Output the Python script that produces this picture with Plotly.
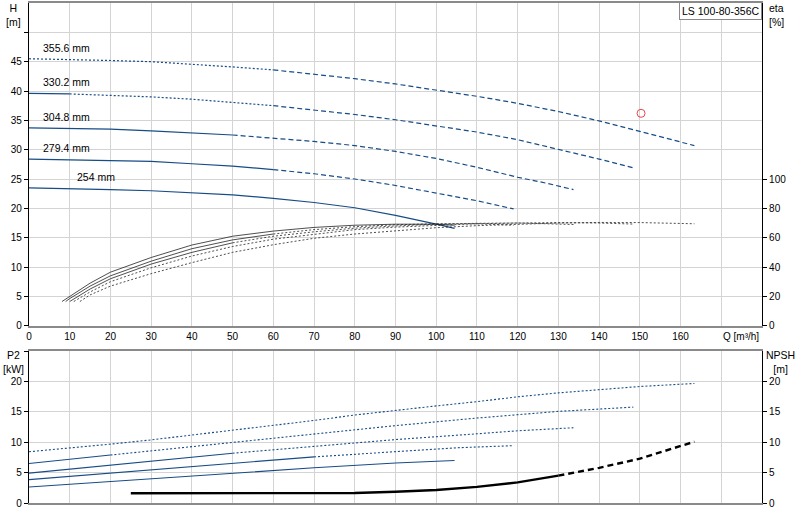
import plotly.graph_objects as go

# impeller diameters (mm)
diameters = ["355.6", "330.2", "304.8", "279.4", "254"]

# Q-H curves, one per impeller
q_h_356 = [0, 10, 20, 30, 40, 50, 60, 70, 80, 90, 100, 110, 120, 130, 140, 150, 163.4]
h_356 = [45.5, 45.4, 45.2, 45.0, 44.6, 44.1, 43.6, 42.9, 42.1, 41.2, 40.2, 39.1, 37.9, 36.5, 34.9, 33.1, 30.7]
q_h_330 = [0, 10, 20, 30, 40, 50, 60, 70, 80, 90, 100, 110, 120, 130, 140, 148.4]
h_330 = [39.6, 39.5, 39.3, 39.0, 38.6, 38.1, 37.5, 36.8, 36.0, 35.1, 34.1, 33.0, 31.7, 30.1, 28.4, 26.9]
q_h_305 = [0, 10, 20, 30, 40, 50, 60, 70, 80, 90, 100, 110, 120, 127, 133.7]
h_305 = [33.7, 33.6, 33.5, 33.2, 32.9, 32.5, 32.0, 31.4, 30.7, 29.7, 28.5, 27.0, 25.3, 24.3, 23.2]
q_h_279 = [0, 10, 20, 30, 40, 50, 60, 70, 80, 90, 100, 110, 119]
h_279 = [28.4, 28.3, 28.2, 28.0, 27.6, 27.2, 26.6, 25.9, 25.0, 23.9, 22.6, 21.3, 19.9]
q_h_254 = [0, 10, 20, 30, 40, 50, 60, 70, 80, 90, 100, 104.5]
h_254 = [23.5, 23.4, 23.2, 23.0, 22.7, 22.3, 21.7, 21.0, 20.1, 18.8, 17.3, 16.6]

# efficiency curves (%)
q_eta_356 = [12.5, 15, 20, 30, 40, 50, 60, 70, 80, 90, 100, 110, 120, 130, 140, 150, 163.4]
eta_356 = [16.5, 21, 27, 35.5, 43, 50, 55.2, 59.6, 62.5, 64.8, 66.8, 68.2, 69.3, 70, 70.4, 70.3, 69.5]
q_eta_330 = [11, 15, 20, 30, 40, 50, 60, 70, 80, 90, 100, 110, 120, 130, 140, 148.4]
eta_330 = [16.5, 23, 30, 39.5, 47.5, 54, 59, 62.5, 65.5, 67.2, 68.5, 69.5, 70, 70.3, 70, 69.3]
q_eta_305 = [10, 15, 20, 30, 40, 50, 60, 70, 80, 90, 100, 110, 120, 133.7]
eta_305 = [16.5, 25, 32, 42, 50, 56.5, 61, 64, 66.5, 68, 69.2, 69.8, 70, 69]
q_eta_279 = [9, 10, 15, 20, 30, 40, 50, 60, 70, 80, 90, 100, 110, 119]
eta_279 = [16.5, 18.5, 27, 34, 44, 52.5, 58.5, 62.5, 65.5, 67.5, 68.8, 69.5, 69.5, 68.5]
q_eta_254 = [8.1, 10, 15, 20, 30, 40, 50, 60, 70, 80, 90, 100, 104.5]
eta_254 = [16.5, 20, 29, 36.5, 46.5, 55, 61, 64.5, 67, 68.5, 69.2, 69.2, 68.5]

# shaft power P2 (kW)
q_p_356 = [0, 10, 20, 30, 40, 50, 60, 70, 80, 90, 100, 110, 120, 130, 140, 150, 163.4]
p_356 = [8.45, 9.05, 9.7, 10.4, 11.2, 11.96, 12.8, 13.6, 14.5, 15.3, 16.0, 16.7, 17.5, 18.15, 18.7, 19.2, 19.7]
q_p_330 = [0, 10, 20, 30, 50, 70, 90, 110, 130, 148.4]
p_330 = [6.5, 7.2, 7.9, 8.6, 10.0, 11.4, 12.75, 14.0, 15.1, 15.8]
q_p_305 = [0, 10, 20, 30, 50, 70, 90, 110, 120, 133.7]
p_305 = [4.93, 5.6, 6.25, 6.9, 8.2, 9.3, 10.45, 11.4, 11.9, 12.4]
q_p_279 = [0, 10, 20, 30, 50, 70, 90, 105, 119]
p_279 = [3.85, 4.4, 4.95, 5.5, 6.6, 7.6, 8.5, 9.1, 9.45]
q_p_254 = [0, 10, 20, 30, 50, 70, 90, 104.5]
p_254 = [2.64, 3.1, 3.55, 4.0, 4.95, 5.8, 6.6, 7.0]

# NPSH (m)
q_npsh = [25, 40, 60, 80, 90, 100, 110, 120, 130, 140, 150, 163.4]
npsh = [1.6, 1.6, 1.6, 1.65, 1.85, 2.15, 2.65, 3.4, 4.5, 5.8, 7.3, 10.1]

# duty point
q_duty = [150.3]
h_duty = [36.2]

x_ticks = list(range(0, 180, 10))
x_ticktext = [str(v) for v in range(0, 170, 10)] + [""]

BLUE = "#174c86"
FONT = "Liberation Sans, Arial, sans-serif"
DASH = "5px,3px"
DOT = "2px,2px"

fig = go.Figure()


def add_split(q, y, split, rest_dash, color, width, xaxis, yaxis, dot_until=None):
    # solid part up to index split, then the broken part
    if split > 0:
        fig.add_trace(go.Scatter(x=q[: split + 1], y=y[: split + 1], mode="lines",
                                 line=dict(color=color, width=width),
                                 xaxis=xaxis, yaxis=yaxis, hoverinfo="skip"))
    if dot_until is not None:
        fig.add_trace(go.Scatter(x=q[split: dot_until + 1], y=y[split: dot_until + 1], mode="lines",
                                 line=dict(color=color, width=width, dash=DOT),
                                 xaxis=xaxis, yaxis=yaxis, hoverinfo="skip"))
        split = dot_until
    if split < len(q) - 1:
        fig.add_trace(go.Scatter(x=q[split:], y=y[split:], mode="lines",
                                 line=dict(color=color, width=width, dash=rest_dash),
                                 xaxis=xaxis, yaxis=yaxis, hoverinfo="skip"))


# Q-H
add_split(q_h_356, h_356, 0, DASH, BLUE, 1.2, "x", "y", dot_until=6)
add_split(q_h_330, h_330, 1, DASH, BLUE, 1.2, "x", "y", dot_until=6)
add_split(q_h_305, h_305, 5, DASH, BLUE, 1.2, "x", "y")
add_split(q_h_279, h_279, 6, DASH, BLUE, 1.2, "x", "y")
add_split(q_h_254, h_254, len(q_h_254) - 1, DASH, BLUE, 1.2, "x", "y")

# efficiency
add_split(q_eta_356, eta_356, 0, DOT, "#222", 0.8, "x", "y2")
add_split(q_eta_330, eta_330, 0, DOT, "#222", 0.8, "x", "y2")
add_split(q_eta_305, eta_305, 5, DOT, "#222", 0.8, "x", "y2")
add_split(q_eta_279, eta_279, 7, DOT, "#222", 0.8, "x", "y2")
add_split(q_eta_254, eta_254, len(q_eta_254) - 1, DOT, "#222", 0.8, "x", "y2")

# P2
add_split(q_p_356, p_356, 0, DOT, BLUE, 1.1, "x2", "y3")
add_split(q_p_330, p_330, 2, DOT, BLUE, 1.1, "x2", "y3")
add_split(q_p_305, p_305, 4, DOT, BLUE, 1.1, "x2", "y3")
add_split(q_p_279, p_279, 5, DOT, BLUE, 1.1, "x2", "y3")
add_split(q_p_254, p_254, len(q_p_254) - 1, DOT, BLUE, 1.1, "x2", "y3")

# NPSH
add_split(q_npsh, npsh, 8, "6px,4px", "black", 2.4, "x2", "y4")

# duty point
fig.add_trace(go.Scatter(x=q_duty, y=h_duty, mode="markers",
                         marker=dict(symbol="circle-open", size=8, color="#e8474d", line=dict(width=1)),
                         xaxis="x", yaxis="y", hoverinfo="skip"))

# diameter labels
label_q = [3, 3, 3, 3, 11.4]
label_h = [h_356[0], h_330[0], h_305[0], h_279[0], h_254[0]]
for d, lq, lh in zip(diameters, label_q, label_h):
    fig.add_annotation(x=lq, y=lh + 1.9, xref="x", yref="y", text=f"{d} mm", showarrow=False,
                       xanchor="left", yanchor="middle", font=dict(size=10.5, color="black"))

axis_common = dict(gridcolor="#d4d4d4", gridwidth=1.2, zeroline=False,
                   tickfont=dict(size=10, color="black"))

fig.update_layout(
    width=800, height=520,
    margin=dict(l=29, r=38, t=1, b=17),
    paper_bgcolor="white", plot_bgcolor="white",
    showlegend=False,
    font=dict(family=FONT, size=10.5, color="black"),
    xaxis=dict(domain=[0, 1], range=[0, 180], tickvals=x_ticks, ticktext=x_ticktext,
               anchor="y", showline=True, linecolor="#8a8a8a", linewidth=2, mirror=True,
               ticks="", **axis_common),
    yaxis=dict(domain=[0.3546, 1], range=[0, 55], tickvals=list(range(0, 55, 5)),
               ticktext=[str(v) for v in range(0, 50, 5)] + [""], anchor="x",
               showline=True, linecolor="black", linewidth=1.2,
               ticks="outside", ticklen=4, tickcolor="black", **axis_common),
    yaxis2=dict(overlaying="y", side="right", anchor="x", range=[0, 220],
                tickvals=list(range(0, 120, 20)), showgrid=False, zeroline=False,
                showline=True, linecolor="black", linewidth=1.2,
                ticks="outside", ticklen=4, tickcolor="black",
                tickfont=dict(size=10, color="black")),
    xaxis2=dict(domain=[0, 1], range=[0, 180], tickvals=x_ticks, showticklabels=False,
                anchor="y3", showline=True, linecolor="#8a8a8a", linewidth=2, mirror=True,
                ticks="", **axis_common),
    yaxis3=dict(domain=[0, 0.3034], range=[0, 25], tickvals=list(range(0, 30, 5)),
                ticktext=[str(v) for v in range(0, 25, 5)] + [""], anchor="x2",
                showline=True, linecolor="black", linewidth=1.2,
                ticks="outside", ticklen=4, tickcolor="black", **axis_common),
    yaxis4=dict(overlaying="y3", side="right", anchor="x2", range=[0, 25],
                tickvals=list(range(0, 25, 5)), showgrid=False, zeroline=False,
                showline=True, linecolor="black", linewidth=1.2,
                ticks="outside", ticklen=4, tickcolor="black",
                tickfont=dict(size=10, color="black")),
)

# axis titles and product box
title_font = dict(size=10.5)
fig.add_annotation(xref="x", yref="paper", x=170, y=0.3546, yshift=-3, text="Q [m³/h]",
                   showarrow=False, xanchor="left", yanchor="top", font=dict(size=10))
fig.add_annotation(xref="paper", yref="paper", x=-0.0211, y=1.006, text="H<br>[m]",
                   showarrow=False, xanchor="center", yanchor="top", font=title_font)
fig.add_annotation(xref="paper", yref="paper", x=1.0068, y=1.006, text="eta<br>[%]",
                   showarrow=False, xanchor="left", yanchor="top", align="left", font=title_font)
fig.add_annotation(xref="paper", yref="paper", x=-0.0211, y=0.3127, text="P2<br>[kW]",
                   showarrow=False, xanchor="center", yanchor="top", font=title_font)
fig.add_annotation(xref="paper", yref="paper", x=1.0252, y=0.3127, text="NPSH<br>[m]",
                   showarrow=False, xanchor="center", yanchor="top", font=title_font)
fig.add_annotation(xref="paper", yref="paper", x=0.9995, y=1.002, text="LS 100-80-356C",
                   showarrow=False, xanchor="right", yanchor="top", bgcolor="white",
                   bordercolor="#8a8a8a", borderwidth=1, borderpad=2, font=title_font)

# the page gets a default 8px body margin; drop it so the chart sits at the corner
fig.write_html("out.html", config={"displayModeBar": False},
               post_script="document.body.style.margin='0';")
